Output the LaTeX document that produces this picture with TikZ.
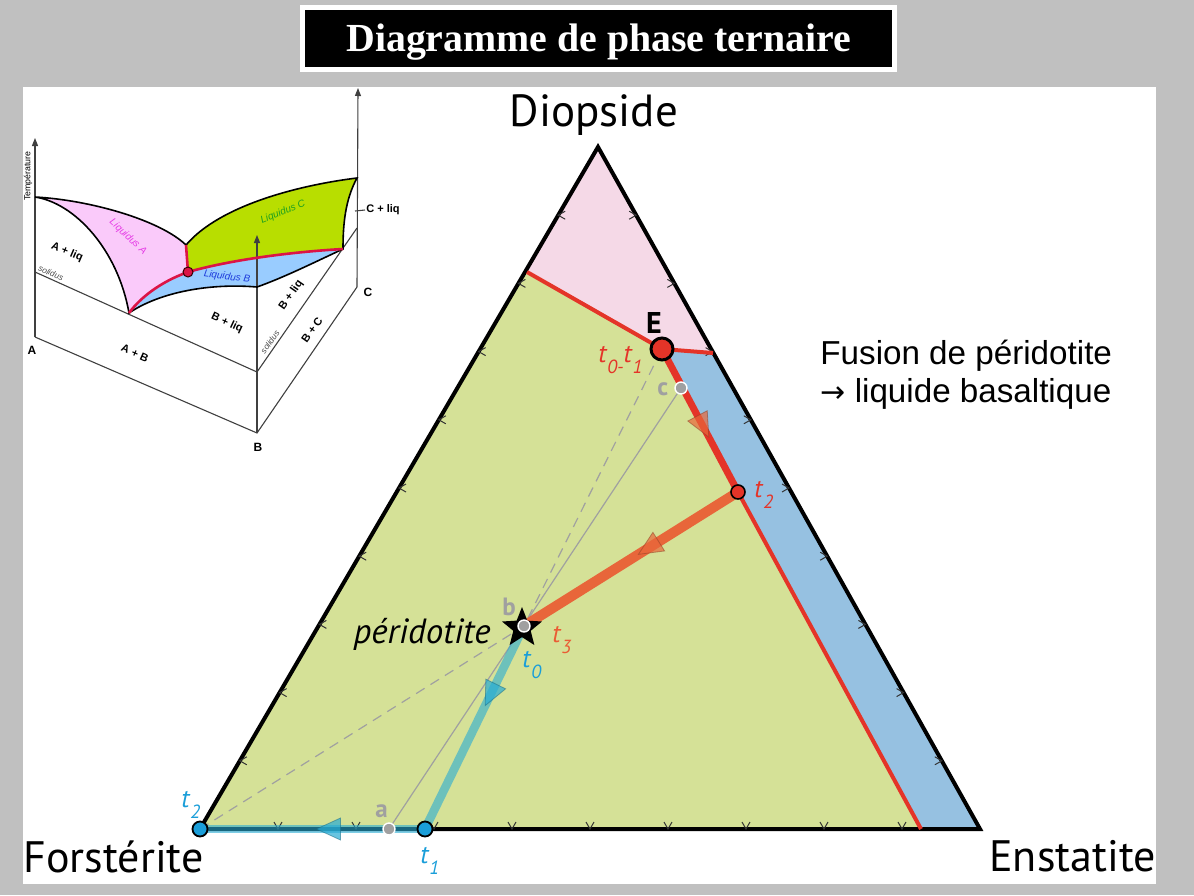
\documentclass[tikz,border=0pt]{standalone}
\usepackage{fontspec}
\setmainfont{PT Sans}
\newfontfamily\arialf{Liberation Sans}
\newfontfamily\tnrf{Liberation Serif}
\newfontfamily\djv{DejaVu Sans}
\usetikzlibrary{shapes.geometric,decorations.markings,calc,arrows.meta}
\definecolor{bg}{RGB}{192,192,192}
\definecolor{vert}{RGB}{213,225,151}
\definecolor{rose}{RGB}{245,217,231}
\definecolor{bleu}{RGB}{150,193,225}
\definecolor{rouge}{RGB}{228,52,40}
\definecolor{orangeL}{RGB}{232,102,58}
\definecolor{cyanL}{RGB}{40,172,212}
\definecolor{pointbleu}{RGB}{26,158,217}
\definecolor{gris}{RGB}{160,160,160}
\definecolor{irose}{RGB}{250,202,250}
\definecolor{ivert}{RGB}{184,222,0}
\definecolor{ibleu}{RGB}{153,204,255}
\definecolor{irouge}{RGB}{220,20,70}
\newcommand\fsz[1]{\fontsize{#1pt}{#1pt}\selectfont}
\newcommand\tsub[1]{\textit{t}\kern0.03em\raisebox{-5.5pt}{\fsz{9.5}\itshape #1}}
\tikzset{
  boxl/.style={draw=black!75, line width=0.55pt},
  surf/.style={draw=black, line width=0.8pt},
  ired/.style={draw=irouge, line width=1.3pt},
  ilbl/.style={font=\arialf\bfseries\fsz{5.5}, inner sep=0},
  iit/.style={font=\arialf\itshape\fsz{5}, inner sep=0},
  tickm/.style={draw=black!80, line width=0.5pt},
  tl/.style={font=\fsz{13}\itshape, inner sep=0, anchor=base west},
  gl/.style={font=\bfseries\fsz{12.5}, text=gris, inner sep=0, anchor=base west},
  gpt/.style={circle, fill=gris, draw=white, line width=0.7pt, minimum size=6pt, inner sep=0},
  bpt/.style={circle, fill=pointbleu, draw=black, line width=0.9pt, minimum size=7.5pt, inner sep=0},
  midarr/.style 2 args={postaction={decorate, decoration={markings, mark=at position #1 with {\filldraw[fill=#2, draw=#2!60!black, fill opacity=0.7, draw opacity=0.5, line width=0.4pt] (7pt,0pt) -- (-5pt,5.5pt) -- (-5pt,-5.5pt) -- cycle;}}}},
  axarr/.style={boxl, -{Triangle[length=4pt,width=3pt]}},
}
\begin{document}
\begin{tikzpicture}[x=0.5pt,y=-0.5pt]
\useasboundingbox (0,0) rectangle (1194,895);
\fill[bg] (0,0) rectangle (1194,895);
\fill[white] (23,87) rectangle (1156,884);
% title
\fill[white] (300,5) rectangle (897,72);
\fill[black] (305,10) rectangle (892,67);
\node[font=\tnrf\bfseries\fsz{19.9}, text=white, anchor=base, inner sep=0] (title) at (598.5,51) {Diagramme de phase ternaire};

% ---------------- inset ----------------
\coordinate (Atop) at (35,197);
\coordinate (As) at (35,272);
\coordinate (A0) at (35,337);
\coordinate (Atip) at (35,138);
\coordinate (Bs) at (257,372);
\coordinate (B0) at (257,433);
\coordinate (Btip) at (257,235);
\coordinate (Cs) at (357,228);
\coordinate (C0) at (357,287);
\coordinate (Ctop) at (357,178);
\coordinate (Ctip) at (358,88);
\coordinate (S1) at (186,245);
\coordinate (Dot) at (188,272);
\coordinate (P1) at (129,313);
\coordinate (P2) at (343,249);
\coordinate (Bm) at (257,287);
\fill[irose] (Atop) .. controls (90,200) and (160,220) .. (S1) -- (Dot) .. controls (160,282) and (140,298) .. (P1) .. controls (118,250) and (75,203) .. (Atop) -- cycle;
\fill[ivert] (S1) .. controls (220,205) and (300,185) .. (Ctop) .. controls (345,200) and (343,225) .. (P2) .. controls (290,252) and (230,260) .. (Dot) -- cycle;
\fill[ibleu] (P1) .. controls (140,298) and (160,282) .. (Dot) .. controls (230,260) and (290,252) .. (P2) .. controls (315,262) and (285,277) .. (Bm) .. controls (210,283) and (160,292) .. (P1) -- cycle;
% box
\draw[boxl] (A0) -- (B0) -- (C0);
\draw[boxl] (As) -- (Bs) -- (Cs);
\draw[axarr] (A0) -- (Atip);
\draw[axarr] (C0) -- (Ctip);
\draw[axarr] (B0) -- (Btip);
% surfaces outline
\draw[surf] (Atop) .. controls (90,200) and (160,220) .. (S1) .. controls (220,205) and (300,185) .. (Ctop) .. controls (345,200) and (343,225) .. (P2) .. controls (315,262) and (285,277) .. (Bm) .. controls (210,283) and (160,292) .. (P1) .. controls (118,250) and (75,203) .. (Atop);
\draw[ired] (S1) -- (Dot);
\draw[ired] (P1) .. controls (140,298) and (160,282) .. (Dot) .. controls (230,260) and (290,252) .. (P2);
\node[circle, fill=irouge, draw=black!80!red, line width=0.5pt, minimum size=5pt, inner sep=0] (eut) at (Dot) {};
\draw[boxl] (355,211) -- (365,210);
% inset labels
\node[font=\arialf\fsz{4.4}, rotate=90, inner sep=0] (temp) at (28,176) {Température};
\node[font=\arialf\bfseries\fsz{6}, inner sep=0] (la) at (32,350) {A};
\node[font=\arialf\bfseries\fsz{6}, inner sep=0] (lb) at (258,447) {B};
\node[font=\arialf\bfseries\fsz{6}, inner sep=0] (lc) at (368,292) {C};
\node[ilbl, rotate=-23] (aliq) at (67,252) {A + liq};
\node[iit, text=black!70, rotate=-22, font=\arialf\itshape\fsz{4.2}] (sol1) at (51,273) {solidus};
\node[iit, text={rgb,255:red,230;green,60;blue,230}, rotate=-43] (liqa) at (128,237) {Liquidus A};
\node[iit, text={rgb,255:red,30;green,160;blue,30}, rotate=22] (liqc) at (283,212) {Liquidus C};
\node[iit, text={rgb,255:red,30;green,60;blue,220}, rotate=-8] (liqb) at (227,277) {Liquidus B};
\node[ilbl, rotate=-25] (bliq) at (227,323) {B + liq};
\node[ilbl, rotate=-24] (ab) at (135,353) {A + B};
\node[ilbl, rotate=55] (bliq2) at (291,295) {B + liq};
\node[ilbl, rotate=55] (bc) at (312,330) {B + C};
\node[iit, text=black!70, rotate=55, font=\arialf\itshape\fsz{4.2}] (sol2) at (270,342) {solidus};
\node[ilbl, anchor=west] (cliq) at (366,210) {C + liq};

% ---------------- ternary ----------------
\coordinate (D) at (598,147);
\coordinate (F) at (200,829);
\coordinate (En) at (980,829);
\coordinate (pE) at (662,349);
\coordinate (L) at (527,272);
\coordinate (R) at (713,353);
\coordinate (T2r) at (738,492);
\coordinate (Bt) at (921,829);
\coordinate (pb) at (524,626);
\coordinate (pt1) at (425,829);
\coordinate (pa) at (389,829);
\coordinate (pc) at (681,388);
\fill[vert] (D) -- (F) -- (En) -- cycle;
\fill[rose] (D) -- (R) -- (pE) -- (L) -- cycle;
\fill[bleu] (pE) -- (R) -- (En) -- (Bt) -- (T2r) -- cycle;
% construction lines
\draw[gris, line width=0.6pt] (pa) -- (pc);
\draw[gris, line width=0.6pt, dash pattern=on 5pt off 3.5pt] (F) -- (pb) -- (pE);
% outline
\draw[black, line width=2pt, line join=miter] (D) -- (F) -- (En) -- cycle;
% ticks
\foreach \k in {1,...,9} {
  \draw[tickm] ($(D)!\k/10!(F)$) ++(7,-4) -- ++(-7,4) -- ++(7,4);
  \draw[tickm] ($(D)!\k/10!(En)$) ++(-7,-4) -- ++(7,4) -- ++(-7,4);
  \draw[tickm] ($(F)!\k/10!(En)$) ++(-4,-7) -- ++(4,7) -- ++(4,-7);
}
% boundaries and paths
\draw[rouge, line width=2pt] (L) -- (pE) -- (R);
\draw[rouge, line width=2pt] (T2r) -- (Bt);
\draw[rouge, line width=3.5pt, midarr={0.53}{orangeL}] (pE) -- (T2r);
\draw[orangeL, line width=5pt, midarr={0.41}{orangeL}] (T2r) -- (pb);
\draw[cyanL, line width=4.3pt, opacity=0.6, midarr={0.33}{cyanL}] (pb) -- (pt1);
\draw[cyanL, line width=4.3pt, opacity=0.6, midarr={0.42}{cyanL}] (pt1) -- (F);
% points
\node[star, star points=5, star point ratio=2.3, fill=black, minimum size=21pt, inner sep=0] (st) at (522,628) {};
\node[gpt] (ga) at (pa) {};
\node[gpt] (gb) at (pb) {};
\node[gpt] (gc) at (pc) {};
\node[circle, fill=rouge, draw=black, line width=1.5pt, minimum size=11pt, inner sep=0] (Enode) at (pE) {};
\node[circle, fill=rouge, draw=black, line width=0.8pt, minimum size=7pt, inner sep=0] (t2node) at (T2r) {};
\node[bpt] (t1node) at (pt1) {};
\node[bpt] (t2bnode) at (F) {};
% labels
\node[font=\fsz{22.5}, anchor=base, inner sep=0] (diop) at (594,126) {Diopside};
\node[font=\fsz{22}, anchor=base west, inner sep=0] (forst) at (23,872) {Forstérite};
\node[font=\fsz{22}, anchor=base west, inner sep=0] (enst) at (989,871) {Enstatite};
\node[font=\bfseries\fsz{15}, anchor=base, inner sep=0] (Elbl) at (654,333) {E};
\node[font=\fsz{17.5}\itshape, anchor=base east, inner sep=0] (perid) at (491,643) {péridotite};
\node[gl] (la2) at (375,817) {a};
\node[gl] (lb2) at (502,615) {b};
\node[gl] (lc2) at (657,395) {c};
\node[tl, text=rouge] (t01) at (598,362) {\tsub{0-}\tsub{1}};
\node[tl, text=rouge] (t2r) at (754,497) {\tsub{2}};
\node[tl, text=orangeL!90!red] (t3) at (552,642) {\tsub{3}};
\node[tl, text=pointbleu] (t0) at (522,667) {\tsub{0}};
\node[tl, text=pointbleu] (t1) at (420,863) {\tsub{1}};
\node[tl, text=pointbleu] (t2b) at (181,807) {\tsub{2}};
\node[font=\arialf\fsz{16.6}, anchor=base west, inner sep=0] (fus1) at (820,364) {Fusion de péridotite};
\node[font=\arialf\fsz{16.6}, anchor=base west, inner sep=0] (fus2) at (820,402) {{\djv\fsz{15}→} liquide basaltique};
\end{tikzpicture}
\end{document}
